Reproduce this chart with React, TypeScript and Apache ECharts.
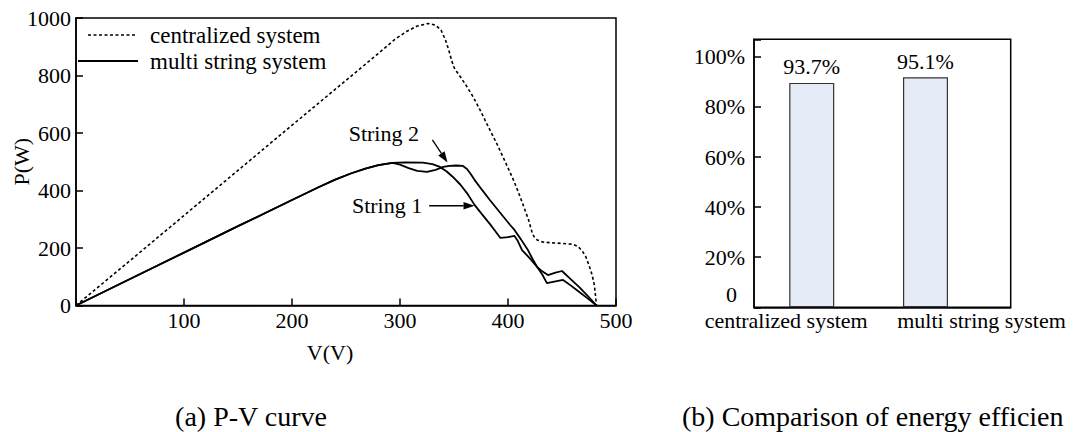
import React, { useEffect, useRef } from "react";
import * as echarts from "echarts";

// ---- P-V curve data (V in volts, P in watts) ----
const centralizedV = [0, 50, 100, 150, 200, 250, 281, 295, 306, 316, 326, 333, 338, 342, 345, 348, 350, 352, 356, 362, 368, 374, 382, 390, 398, 405, 410, 414, 419, 422, 424, 427, 432, 440, 450, 460, 465, 469, 472, 475, 478, 480, 482];
const centralizedP = [0, 156, 313, 470, 627, 783, 880, 925, 953, 972, 981, 975, 958, 925, 890, 850, 828, 816, 795, 761, 724, 681, 620, 560, 495, 437, 390, 350, 298, 258, 240, 228, 221, 218, 216, 213, 205, 188, 170, 140, 105, 70, 0];

const string1V = [0, 50, 100, 150, 200, 225, 240, 255, 268, 280, 293, 305, 321, 330, 337, 343, 349, 356, 362, 369, 376, 385, 393, 400, 406, 409, 413, 420, 427, 432, 437, 444, 450, 458, 466, 474, 482];
const string1P = [0, 92, 184, 276, 367, 412, 438, 460, 476, 488, 496, 498, 497, 492, 482, 467, 447, 420, 391, 350, 317, 275, 235, 238, 242, 225, 193, 165, 134, 118, 106, 114, 120, 92, 64, 33, 0];

const string2V = [0, 50, 100, 150, 200, 225, 240, 255, 268, 280, 293, 300, 308, 316, 325, 333, 340, 346, 352, 358, 362, 365, 369, 376, 383, 392, 402, 406, 412, 418, 423, 427, 432, 436, 444, 451, 458, 466, 474, 482];
const string2P = [0, 92, 184, 276, 367, 412, 438, 460, 476, 488, 496, 490, 478, 468, 465, 472, 482, 486, 487, 486, 475, 460, 437, 402, 368, 326, 280, 263, 230, 196, 160, 134, 106, 78, 84, 89, 70, 47, 24, 0];

const pvXTicks = [0, 100, 200, 300, 400, 500];
const pvYTicks = [0, 200, 400, 600, 800, 1000];

// legend entries
const legendNames = ["centralized system", "multi string system"];

// annotations in data space: [labelV, labelP, arrowFromV, arrowFromP, arrowToV, arrowToP]
const annotationNames = ["String 2", "String 1"];
const annotationPos = [
  [285, 598, 330, 576, 344, 497],
  [288, 347, 327, 347, 369, 347],
];

// ---- Efficiency comparison data ----
const systems = ["centralized system", "multi string system"];
const barHeights = [89.6, 91.8];
const effLabels = ["93.7%", "95.1%"];
const effTicks = [0, 20, 40, 60, 80, 100];

const captions = ["(a) P-V curve", "(b) Comparison of energy efficien"];

const FONT = "'Liberation Serif', 'Times New Roman', Times, serif";
const zip = (a: number[], b: number[]) => a.map((v, i) => [v, b[i]]);

export default function App() {
  const ref = useRef<HTMLDivElement>(null);

  useEffect(() => {
    if (!ref.current) return;
    const chart = echarts.init(ref.current, null, { renderer: "svg" });
    const txt = { fontFamily: FONT, color: "#000", fontSize: 22 };
    const dashed = [3, 2.5];

    chart.setOption({
      animation: false,
      backgroundColor: "#fff",
      textStyle: { fontFamily: FONT, color: "#000" },
      grid: [
        { left: 76, top: 18, width: 540, height: 287.5, show: true, borderColor: "#000", borderWidth: 1.5, backgroundColor: "transparent", outerBoundsMode: "none", containLabel: false },
        { left: 754, top: 39.3, width: 256.7, height: 268, show: true, borderColor: "#000", borderWidth: 1.5, backgroundColor: "transparent", outerBoundsMode: "none", containLabel: false },
      ],
      xAxis: [
        {
          type: "value",
          gridIndex: 0,
          position: "bottom",
          min: pvXTicks[0],
          max: pvXTicks[pvXTicks.length - 1],
          interval: 100,
          name: "V(V)",
          nameLocation: "middle",
          nameGap: 36,
          nameMoveOverlap: false,
          nameTextStyle: { ...txt, padding: [0, 32, 0, 0] },
          axisLine: { lineStyle: { color: "#000", width: 1.5 } },
          axisTick: { inside: true, length: 7, lineStyle: { color: "#000", width: 1.5 } },
          axisLabel: { ...txt, margin: 4, formatter: (v: number) => (v === 0 ? "" : String(v)) },
          splitLine: { show: false },
        },
        {
          type: "value",
          gridIndex: 1,
          position: "top",
          min: 0.4925,
          max: 2.749,
          show: false,
        },
        {
          type: "category",
          gridIndex: 1,
          position: "bottom",
          data: systems,
          axisLine: { lineStyle: { color: "#000", width: 1.5 } },
          axisTick: { show: false },
          axisLabel: {
            ...txt,
            margin: 2,
            interval: 0,
            formatter: (v: string, i: number) => (i === 0 ? `{a|${v}}` : `{b|${v}}`),
            rich: {
              a: { ...txt, padding: [0, 64, 0, 0] },
              b: { ...txt, padding: [0, 0, 0, 70] },
            },
          },
        },
      ],
      yAxis: [
        {
          type: "value",
          gridIndex: 0,
          min: pvYTicks[0],
          max: pvYTicks[pvYTicks.length - 1],
          interval: 200,
          name: "P(W)",
          nameLocation: "middle",
          nameGap: 44,
          nameMoveOverlap: false,
          nameTextStyle: { ...txt },
          axisLine: { lineStyle: { color: "#000", width: 1.5 } },
          axisTick: { inside: true, length: 7, lineStyle: { color: "#000", width: 1.5 } },
          axisLabel: { ...txt, margin: 5, formatter: (v: number) => String(v) },
          splitLine: { show: false },
        },
        {
          type: "value",
          gridIndex: 1,
          min: 0,
          max: 107,
          interval: 20,
          axisLine: { lineStyle: { color: "#000", width: 1.5 } },
          axisTick: { inside: true, length: 7, lineStyle: { color: "#000", width: 1.5 } },
          axisLabel: {
            ...txt,
            margin: 9,
            formatter: (v: number) => (v === 0 ? "{z|0}" : effTicks.includes(v) ? `${v}%` : ""),
            rich: { z: { ...txt, padding: [0, 8, 26, 0] } },
          },
          splitLine: { show: false },
        },
      ],
      series: [
        {
          name: legendNames[0],
          type: "line",
          xAxisIndex: 0,
          yAxisIndex: 0,
          data: zip(centralizedV, centralizedP),
          symbol: "none",
          lineStyle: { color: "#000", width: 1.6, type: dashed },
          itemStyle: { color: "#000" },
        },
        {
          name: legendNames[1],
          type: "line",
          xAxisIndex: 0,
          yAxisIndex: 0,
          data: zip(string1V, string1P),
          symbol: "none",
          lineStyle: { color: "#000", width: 1.8 },
          itemStyle: { color: "#000" },
        },
        {
          name: "String 2",
          type: "line",
          xAxisIndex: 0,
          yAxisIndex: 0,
          data: zip(string2V, string2P),
          symbol: "none",
          lineStyle: { color: "#000", width: 1.8 },
          itemStyle: { color: "#000" },
        },
        {
          name: "efficiency",
          type: "bar",
          xAxisIndex: 1,
          yAxisIndex: 1,
          barWidth: 45,
          data: barHeights.map((h, i) => [i + 1, h]),
          itemStyle: { color: "#e6ecf7", borderColor: "#333", borderWidth: 1.2 },
          label: {
            show: true,
            position: "top",
            distance: 5,
            ...txt,
            formatter: (p: any) => effLabels[p.dataIndex],
          },
        },
      ],
    });

    const graphics: any[] = [];
    // legend (drawn inside the plot, top-left)
    const legendRows = [
      { y: 35, x1: 88, x2: 136, dash: dashed },
      { y: 61, x1: 78, x2: 138, dash: null as any },
    ];
    legendRows.forEach((r, i) => {
      graphics.push({
        type: "line",
        shape: { x1: r.x1, y1: r.y, x2: r.x2, y2: r.y },
        style: { stroke: "#000", lineWidth: i === 0 ? 1.6 : 1.8, lineDash: r.dash || undefined },
      });
      graphics.push({
        type: "text",
        x: 150,
        y: r.y,
        style: { text: legendNames[i], fontFamily: FONT, fontSize: 23, fill: "#000", align: "left", verticalAlign: "middle" },
      });
    });

    // annotations (labels + arrows) positioned through the axis scales
    annotationPos.forEach((a, i) => {
      const lab = chart.convertToPixel({ gridIndex: 0 }, [a[0], a[1]]) as number[];
      const p0 = chart.convertToPixel({ gridIndex: 0 }, [a[2], a[3]]) as number[];
      const p1 = chart.convertToPixel({ gridIndex: 0 }, [a[4], a[5]]) as number[];
      graphics.push({
        type: "text",
        x: lab[0],
        y: lab[1],
        style: { text: annotationNames[i], fontFamily: FONT, fontSize: 22, fill: "#000", align: "center", verticalAlign: "middle" },
      });
      const dx = p1[0] - p0[0];
      const dy = p1[1] - p0[1];
      const len = Math.hypot(dx, dy);
      const ux = dx / len;
      const uy = dy / len;
      const hl = 11;
      const hw = 3.8;
      const bx = p1[0] - ux * hl;
      const by = p1[1] - uy * hl;
      graphics.push({
        type: "line",
        shape: { x1: p0[0], y1: p0[1], x2: bx, y2: by },
        style: { stroke: "#000", lineWidth: 1.3 },
      });
      graphics.push({
        type: "polygon",
        shape: {
          points: [
            [p1[0], p1[1]],
            [bx - uy * hw, by + ux * hw],
            [bx + uy * hw, by - ux * hw],
          ],
        },
        style: { fill: "#000" },
      });
    });
    graphics.push({
      type: "text",
      x: 251,
      y: 416,
      style: { text: captions[0], fontFamily: FONT, fontSize: 28, fill: "#000", align: "center", verticalAlign: "middle" },
    });
    graphics.push({
      type: "text",
      x: 682,
      y: 416,
      style: { text: captions[1], fontFamily: FONT, fontSize: 28, fill: "#000", align: "left", verticalAlign: "middle" },
    });
    chart.setOption({ graphic: graphics });

    return () => chart.dispose();
  }, []);

  return (
    <div
      ref={ref}
      style={{ position: "fixed", left: 0, top: 0, width: 1075, height: 432 }}
    />
  );
}
